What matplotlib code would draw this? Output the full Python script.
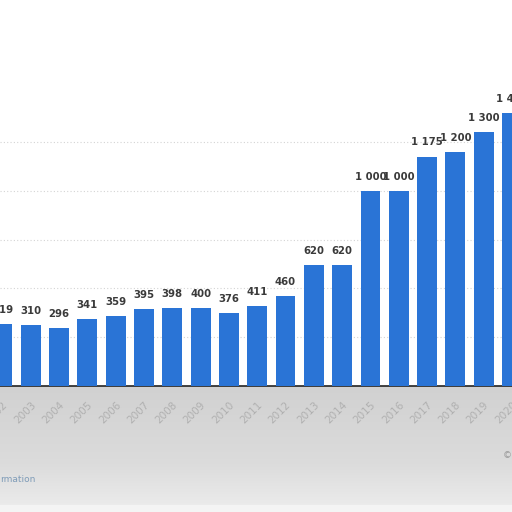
import matplotlib
matplotlib.use("Agg")
import matplotlib.pyplot as plt
import numpy as np

years = [str(y) for y in range(2002, 2021)]
values = [319, 310, 296, 341, 359, 395, 398, 400, 376, 411, 460,
          620, 620, 1000, 1000, 1175, 1200, 1300, 1400]
labels = ["319", "310", "296", "341", "359", "395", "398", "400", "376", "411", "460",
          "620", "620", "1 000", "1 000", "1 175", "1 200", "1 300", "1 400"]

fig = plt.figure(figsize=(5.12, 5.12), dpi=100)
fig.patch.set_facecolor("white")

# grey lower background
bg = fig.add_axes([0, 0, 1, 126 / 512])
grad = np.concatenate([np.linspace(0.93, 0.86, 40), np.linspace(0.86, 0.82, 60)]).reshape(-1, 1)
bg.imshow(np.dstack([grad, grad, grad]), aspect="auto", extent=[0, 1, 0, 1], origin="lower")
bg.fill_between([0, 1], 0, 7 / 126, color="#f4f4f4")
bg.set_xlim(0, 1)
bg.set_ylim(0, 1)
bg.set_axis_off()
bg.text(0.0, (512 - 479) / 126, "rmation", color="#7f9cb8", fontsize=6.5,
        ha="left", va="center", transform=bg.transAxes)
bg.text(1.0, (512 - 456) / 126, "©", color="#999999", fontsize=6.5,
        ha="right", va="center", transform=bg.transAxes)

ax = fig.add_axes([0, 126 / 512, 1, 386 / 512])
ax.set_facecolor("none")
step = 28.5
x = np.arange(len(years))
ax.bar(x, values, width=20 / step, color="#2a74d6", zorder=3)
ax.set_xlim(-2.5 / step, (512 - 2.5) / step)
ax.set_ylim(0, 386 / 0.1953)

for xi, v, lab in zip(x, values, labels):
    ax.annotate(lab, (xi, v), xytext=(0, 6.5), textcoords="offset points",
                ha="center", va="bottom", fontsize=7.3, fontweight="bold",
                color="#3a3a3a", zorder=4)

for g in [250, 500, 750, 1000, 1250]:
    ax.axhline(g, color="#d4d4d4", lw=0.8, ls=(0, (1, 2)), zorder=1)

for s in ["top", "right", "left"]:
    ax.spines[s].set_visible(False)
ax.spines["bottom"].set_color("#222222")
ax.spines["bottom"].set_linewidth(1.2)
ax.set_yticks([])
ax.set_xticks(x)
ax.set_xticklabels(years, rotation=45, ha="right", rotation_mode="anchor",
                   color="#b0b0b0", fontsize=7.5)
ax.tick_params(axis="x", length=0, pad=10)

fig.savefig("out.png", dpi=100)
